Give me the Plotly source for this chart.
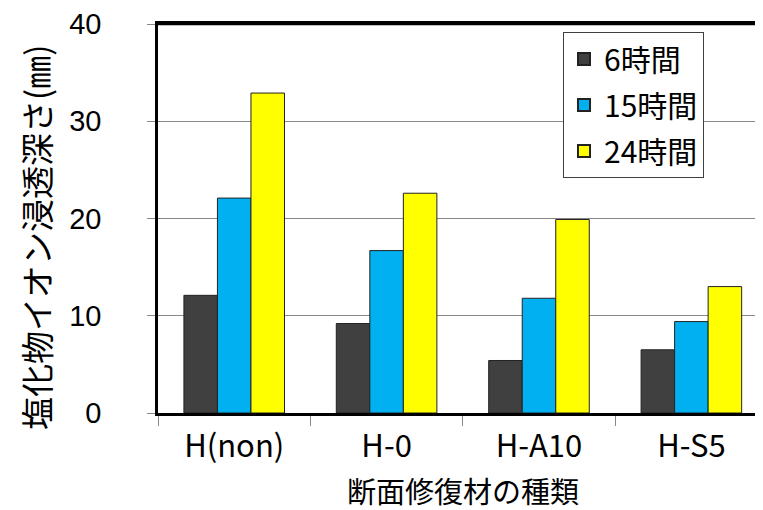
import plotly.graph_objects as go

categories = ["H(non)", "H-0", "H-A10", "H-S5"]
series_names = ["6時間", "15時間", "24時間"]
vals_6h = [12.1, 9.2, 5.4, 6.5]
vals_15h = [22.1, 16.7, 11.8, 9.4]
vals_24h = [32.9, 22.6, 19.9, 13.0]
colors = ["#404040", "#00B0F0", "#FFFF00"]
y_ticks = [0, 10, 20, 30, 40]

JP = "Noto Sans CJK JP"

fig = go.Figure()
for name, vals, c in zip(series_names, [vals_6h, vals_15h, vals_24h], colors):
    fig.add_trace(go.Bar(
        x=categories, y=vals, name=name, legendgroup=name,
        marker=dict(color=c, line=dict(color="#222222", width=1)),
    ))

# page body adds ~8px offset; sizes compensate so plot spans x 158-763, y 22-413
fig.update_layout(
    width=755, height=502,
    margin=dict(l=150, r=0, t=14, b=97),
    paper_bgcolor="white", plot_bgcolor="white",
    barmode="group", bargap=0.34, bargroupgap=0,
    showlegend=True,
    legend=dict(
        x=(563 - 158) / 605, y=(413 - 30) / 391, xanchor="left", yanchor="top",
        bordercolor="#404040", borderwidth=1, bgcolor="white",
        font=dict(family=JP, size=30, color="black"),
        itemsizing="constant", tracegroupgap=4, itemwidth=30,
    ),
    xaxis=dict(
        range=[-0.5, 3.47],
        showline=True, linecolor="black", linewidth=2.5, mirror=True,
        ticks="outside", ticklen=10, tickcolor="#888888",
        tickson="boundaries",
        ticklabelstandoff=4,
        tickfont=dict(family=JP, size=31, color="black"),
        showgrid=False,
    ),
    yaxis=dict(
        range=[0, 40], tickvals=y_ticks,
        showline=True, linecolor="black", linewidth=2.5,
        ticks="outside", ticklen=8, tickcolor="#888888",
        ticklabelstandoff=40, ticklabeloverflow="allow",
        tickfont=dict(family="Liberation Sans", size=29, color="black"),
        showgrid=True, gridcolor="#888888", gridwidth=1,
        zeroline=False,
    ),
    shapes=[dict(
        type="line", xref="paper", yref="paper", x0=0, x1=1, y0=1, y1=1,
        line=dict(color="black", width=2.5),
    )],
    annotations=[
        dict(
            text="塩化物イオン浸透深さ(㎜)", textangle=-90,
            xref="paper", yref="paper", x=(36 - 158) / 605, y=(413 - 237) / 391,
            xanchor="center", yanchor="middle", showarrow=False,
            font=dict(family=JP, size=33, color="black"),
        ),
        dict(
            text="断面修復材の種類",
            xref="paper", yref="paper", x=(463 - 158) / 605, y=(413 - 490) / 391,
            xanchor="center", yanchor="middle", showarrow=False,
            font=dict(family=JP, size=29, color="black"),
        ),
    ],
)

fig.write_html("out.html")
